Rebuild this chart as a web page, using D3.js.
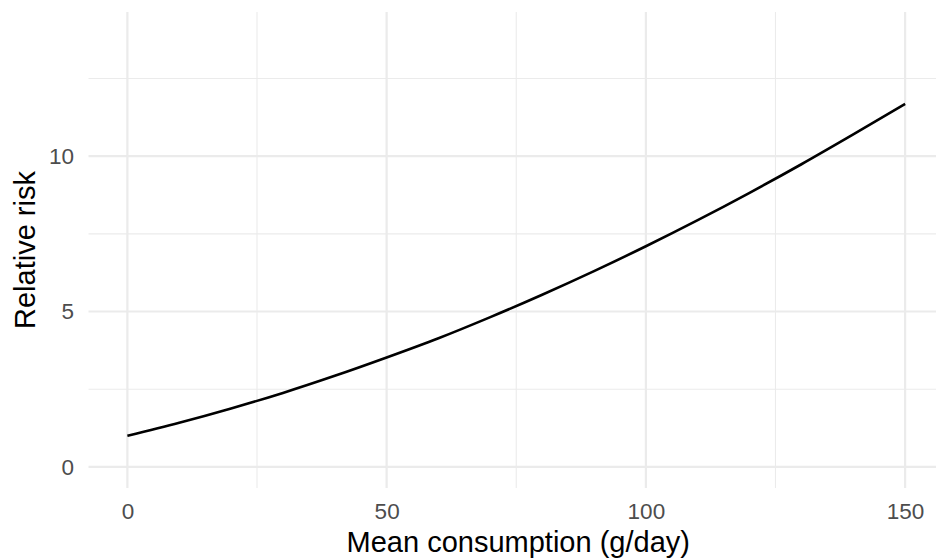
<!DOCTYPE html>
<html>
<head>
<meta charset="utf-8">
<script src="https://cdn.jsdelivr.net/npm/d3@7"></script>
<style>
  html, body { margin: 0; padding: 0; background: #fff; }
  svg { display: block; font-family: "Liberation Sans", Arial, sans-serif; }
</style>
</head>
<body>
<svg id="chart" width="936" height="560"></svg>
<script>
// Data
const consumption = [0, 10, 20, 30, 40, 50, 60, 70, 80, 90, 100, 110, 120, 130, 140, 150];
const relativeRisk = [1.00, 1.42, 1.88, 2.38, 2.93, 3.52, 4.14, 4.82, 5.54, 6.30, 7.10, 7.94, 8.82, 9.74, 10.70, 11.68];
const xMajorTicks = [0, 50, 100, 150];
const xMinorTicks = [25, 75, 125];
const yMajorTicks = [0, 5, 10];
const yMinorTicks = [2.5, 7.5, 12.5];
const xTitle = "Mean consumption (g/day)";
const yTitle = "Relative risk";

const W = 936, H = 560;
const panel = { left: 88.5, right: 944, top: 12, bottom: 488 };

const svg = d3.select("#chart");

const x = d3.scaleLinear().domain([-7.5, 157.5]).range([panel.left, panel.right]);
const y = d3.scaleLinear().domain([-0.68, 14.64]).range([panel.bottom, panel.top]);

const grid = svg.append("g");
// minor grid
grid.selectAll("line.ymin").data(yMinorTicks).join("line")
  .attr("x1", panel.left).attr("x2", panel.right)
  .attr("y1", d => y(d)).attr("y2", d => y(d))
  .attr("stroke", "#ebebeb").attr("stroke-width", 1.1);
grid.selectAll("line.xmin").data(xMinorTicks).join("line")
  .attr("y1", panel.top).attr("y2", panel.bottom)
  .attr("x1", d => x(d)).attr("x2", d => x(d))
  .attr("stroke", "#ebebeb").attr("stroke-width", 1.1);
// major grid
grid.selectAll("line.ymaj").data(yMajorTicks).join("line")
  .attr("x1", panel.left).attr("x2", panel.right)
  .attr("y1", d => y(d)).attr("y2", d => y(d))
  .attr("stroke", "#ebebeb").attr("stroke-width", 2.2);
grid.selectAll("line.xmaj").data(xMajorTicks).join("line")
  .attr("y1", panel.top).attr("y2", panel.bottom)
  .attr("x1", d => x(d)).attr("x2", d => x(d))
  .attr("stroke", "#ebebeb").attr("stroke-width", 2.2);

// axes (labels only, ggplot minimal style)
const xAxis = svg.append("g")
  .attr("transform", `translate(0,${panel.bottom})`)
  .call(d3.axisBottom(x).tickValues(xMajorTicks).tickSize(0).tickPadding(15.3).tickFormat(d3.format("d")));
xAxis.select(".domain").remove();
xAxis.selectAll("text").attr("fill", "#4d4d4d").style("font-size", "22.5px")
  .style("font-family", "'Liberation Sans', Arial, sans-serif");

const yAxis = svg.append("g")
  .attr("transform", `translate(${panel.left},0)`)
  .call(d3.axisLeft(y).tickValues(yMajorTicks).tickSize(0).tickPadding(14.5).tickFormat(d3.format("d")));
yAxis.select(".domain").remove();
yAxis.selectAll("text").attr("fill", "#4d4d4d").style("font-size", "22.5px")
  .style("font-family", "'Liberation Sans', Arial, sans-serif");

// line
const data = consumption.map((c, i) => ({ x: c, y: relativeRisk[i] }));
svg.append("path")
  .datum(data)
  .attr("fill", "none")
  .attr("stroke", "#000")
  .attr("stroke-width", 2.6)
  .attr("stroke-linejoin", "round")
  .attr("d", d3.line().x(d => x(d.x)).y(d => y(d.y)).curve(d3.curveMonotoneX));

// titles
svg.append("text")
  .attr("x", x(75) + 2).attr("y", 552)
  .attr("text-anchor", "middle")
  .attr("fill", "#000")
  .style("font-size", "29px")
  .text(xTitle);

svg.append("text")
  .attr("transform", `translate(34.5,${(panel.top + panel.bottom) / 2}) rotate(-90)`)
  .attr("text-anchor", "middle")
  .attr("fill", "#000")
  .style("font-size", "29px")
  .text(yTitle);
</script>
</body>
</html>
